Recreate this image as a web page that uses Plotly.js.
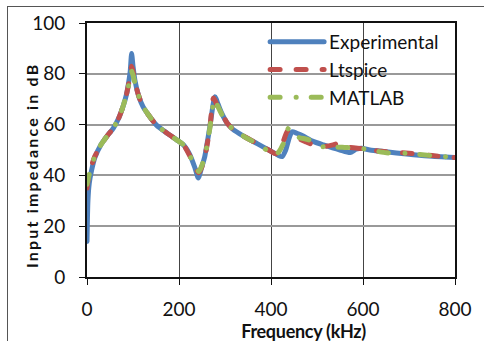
<!DOCTYPE html>
<html>
<head>
<meta charset="utf-8">
<script src="https://cdn.plot.ly/plotly-3.0.1.min.js"></script>
<style>
  html, body { margin: 0; padding: 0; background: #fff; }
  #wrap { position: relative; width: 484px; height: 341px; }
  #chart { width: 484px; height: 341px; }
  #frame { position: absolute; left: 7px; top: 6px; right: -5px; bottom: -5px;
           border-left: 1px solid #555; border-top: 1px solid #555; pointer-events: none; }
  .scatterlayer .js-line, .legend .js-line { stroke-linecap: round !important; stroke-linejoin: round !important; }
  .annotation[data-index="0"] text { letter-spacing: 2.2px; }
  .annotation[data-index="1"] text { letter-spacing: -0.3px; }
</style>
</head>
<body>
<div id="wrap">
  <div id="chart"></div>
  <div id="frame"></div>
</div>
<script>
// ---- Data ----
const seriesNames = ["Experimental", "Ltspice", "MATLAB"];

const expFreq = [0, 2, 5, 10, 17, 30, 45, 57, 70, 79, 86, 90, 94, 97, 100, 104, 112, 122, 135, 151, 175, 195, 210, 224, 235, 242, 249, 256, 267, 278, 285, 293, 305, 318, 340, 370, 400, 415, 424, 432, 440, 446, 456, 470, 490, 514, 550, 572, 585, 597, 615, 650, 695, 743, 800];
const expDb   = [14, 30, 37, 42, 47, 52, 55.8, 58.5, 63, 67.5, 72, 76, 81, 88, 83, 77.6, 71.5, 67, 63.5, 59.8, 56.5, 54, 52, 48, 42.8, 39, 43, 47.4, 59, 71, 68, 64.4, 60.5, 58, 55.5, 52.5, 49.5, 48, 47.4, 50, 55, 57.2, 56.6, 55.5, 53.5, 52, 50, 49, 50.3, 50.7, 50, 49.3, 48.4, 47.6, 47];

const ltFreq = [0, 3, 7, 12, 17, 30, 45, 57, 70, 79, 86, 90, 94, 97, 100, 104, 112, 122, 135, 151, 175, 195, 210, 224, 235, 243, 250, 257, 267, 275, 283, 293, 305, 318, 340, 370, 395, 410, 420, 428, 436, 445, 455, 475, 493, 520, 535, 547, 561, 600, 640, 700, 750, 800];
const ltDb   = [35, 39, 42, 45, 47.5, 52, 55.8, 58.5, 63, 67.5, 72, 75.5, 79.5, 83, 81, 77, 71.5, 67, 63.5, 59.8, 56.5, 54, 52, 47.5, 43, 41, 43.5, 48, 58.5, 70.5, 67.5, 64.4, 60.5, 58, 55.5, 52.5, 50, 48.5, 50.5, 54, 57.5, 56.5, 55, 53.3, 52, 51.5, 52, 52.6, 51.3, 50.5, 49.5, 48.7, 47.8, 47];

const mlFreq = [0, 3, 7, 12, 17, 30, 45, 57, 70, 79, 86, 90, 94, 97, 100, 104, 112, 122, 135, 151, 175, 195, 210, 224, 235, 243, 250, 257, 267, 277, 285, 293, 305, 318, 340, 380, 409, 418, 428, 438, 447, 456, 482, 500, 511, 522, 530, 540, 560, 593, 651, 695, 750, 800];
const mlDb   = [36.5, 39, 42, 45, 47.5, 52, 55.8, 58.5, 63, 67.5, 72, 75, 78.5, 81, 79.5, 76.5, 71.5, 67, 63.5, 59.8, 56.5, 54, 52, 47.5, 44, 41.5, 44, 48, 58.5, 70, 67, 64, 60.5, 58, 55.5, 51.3, 48, 49.5, 53, 58.5, 56.5, 55.2, 54, 52.5, 51.3, 51.5, 51.8, 51.2, 51, 50.7, 48.9, 48.7, 47.8, 47.1];

const xTickVals = [0, 200, 400, 600, 800];
const yTickVals = [0, 20, 40, 60, 80, 100];
const xTitle = "Frequency (kHz)";
const yTitle = "Input impedance in dB";

const FONT = "Lato, 'Open Sans', sans-serif";

const traces = [
  { x: expFreq, y: expDb, name: seriesNames[0], type: "scatter", mode: "lines",
    line: { color: "#4F81BD", width: 5, shape: "spline", smoothing: 0.6 } },
  { x: ltFreq, y: ltDb, name: seriesNames[1], type: "scatter", mode: "lines",
    line: { color: "#C0504D", width: 5, dash: "10px,16px", shape: "spline", smoothing: 0.6 } },
  { x: mlFreq, y: mlDb, name: seriesNames[2], type: "scatter", mode: "lines",
    line: { color: "#9BBB59", width: 5, dash: "10px,16px,0.1px,15px", shape: "spline", smoothing: 0.6 } }
];

const layout = {
  width: 484, height: 341,
  margin: { l: 87, r: 29, t: 23, b: 64, pad: 0 },
  paper_bgcolor: "#fff", plot_bgcolor: "#fff",
  font: { family: FONT, color: "#111" },
  showlegend: true,
  legend: {
    x: 0.484, y: 1.0, xanchor: "left", yanchor: "top",
    bgcolor: "rgba(0,0,0,0)", borderwidth: 0,
    font: { family: FONT, size: 19, color: "#111" },
    itemwidth: 54, tracegroupgap: 0
  },
  xaxis: {
    range: [0, 800], tickvals: xTickVals, ticktext: xTickVals.map(String),
    showgrid: true, gridcolor: "#444", gridwidth: 1,
    showline: true, linecolor: "#111", linewidth: 2, mirror: true,
    ticks: "outside", ticklen: 6, tickcolor: "#111", tickwidth: 1,
    ticklabelstandoff: 8,
    tickfont: { family: FONT, size: 19, color: "#111" },
    zeroline: false, fixedrange: true
  },
  yaxis: {
    range: [0, 100], tickvals: yTickVals, ticktext: yTickVals.map(String),
    showgrid: true, gridcolor: "#999", gridwidth: 2,
    showline: true, linecolor: "#111", linewidth: 2, mirror: true,
    ticks: "outside", ticklen: 6, tickcolor: "#111", tickwidth: 1,
    ticklabelstandoff: 10,
    tickfont: { family: FONT, size: 19, color: "#111" },
    zeroline: false, fixedrange: true
  },
  annotations: [
    { text: yTitle, xref: "paper", yref: "paper",
      x: (31 - 87) / 368, y: (277 - 166) / 254, xanchor: "center", yanchor: "middle",
      textangle: -90, showarrow: false,
      font: { family: FONT, size: 16, weight: "bold", color: "#111" } },
    { text: xTitle, xref: "paper", yref: "paper",
      x: (303 - 87) / 368, y: (277 - 331) / 254, xanchor: "center", yanchor: "middle",
      showarrow: false,
      font: { family: FONT, size: 18, weight: "bold", color: "#111" } }
  ]
};

Plotly.newPlot("chart", traces, layout, { staticPlot: true, displayModeBar: false });
</script>
</body>
</html>
